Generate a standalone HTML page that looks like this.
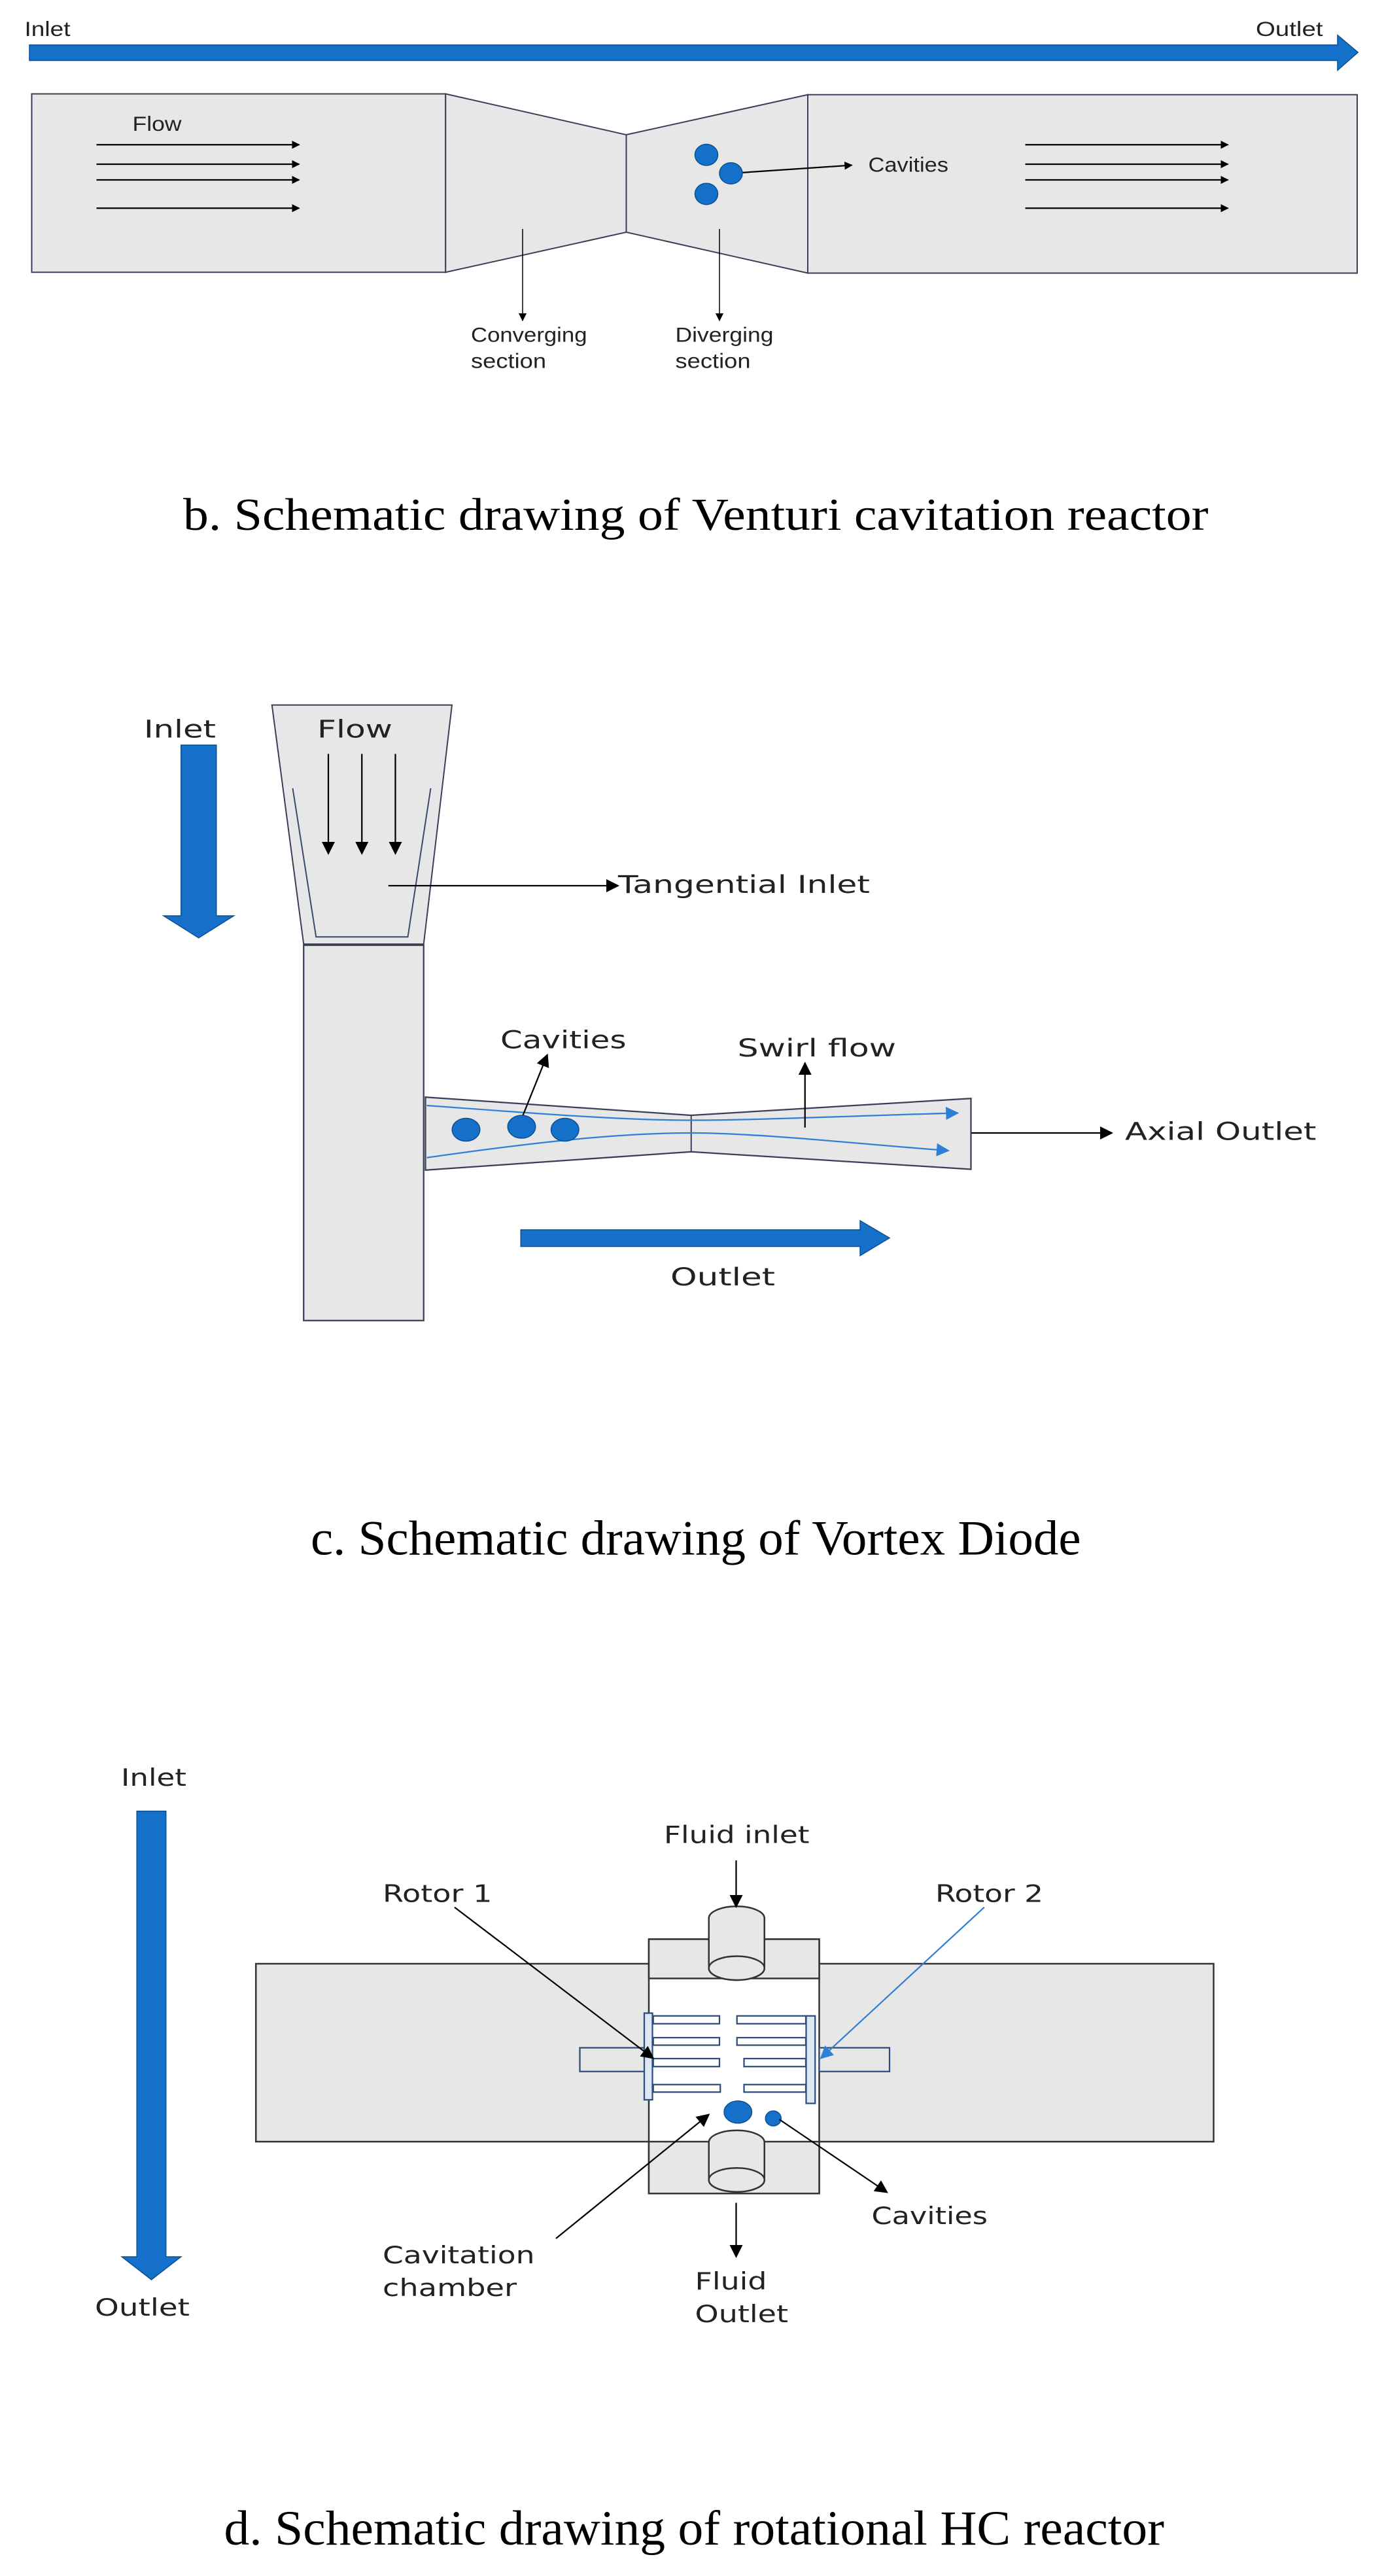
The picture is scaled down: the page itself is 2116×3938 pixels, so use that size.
<!DOCTYPE html>
<html><head><meta charset="utf-8"><style>html,body{margin:0;padding:0;background:#fff}svg{display:block}</style></head>
<body>
<svg xmlns="http://www.w3.org/2000/svg" width="2116" height="3938" viewBox="0 0 846.4 1575.2">
<defs>
<marker id="ah" viewBox="0 0 10 10" refX="9" refY="5" markerWidth="5" markerHeight="5" orient="auto" markerUnits="userSpaceOnUse"><path d="M0,0L10,5L0,10z" fill="#000"/></marker>
<marker id="ah2" viewBox="0 0 10 10" refX="9" refY="5" markerWidth="8" markerHeight="8" orient="auto" markerUnits="userSpaceOnUse"><path d="M0,0L10,5L0,10z" fill="#000"/></marker>
<marker id="ahb" viewBox="0 0 10 10" refX="9" refY="5" markerWidth="8" markerHeight="8" orient="auto" markerUnits="userSpaceOnUse"><path d="M0,0L10,5L0,10z" fill="#2f7fd6"/></marker>
</defs>
<rect width="846.4" height="1575.2" fill="#fff"/>

<!-- ===== Section b ===== -->
<g font-family="Liberation Sans, sans-serif" font-size="12.5" fill="#222" lengthAdjust="spacingAndGlyphs">
<text x="15" y="22" textLength="28" lengthAdjust="spacingAndGlyphs">Inlet</text>
<text x="768" y="22" textLength="41" lengthAdjust="spacingAndGlyphs">Outlet</text>
</g>
<path d="M18,27.5H818V21.5L830.5,32L818,43V37H18Z" fill="#1570c9" stroke="#0d4f91" stroke-width="0.6"/>
<g stroke="#3a3f55" stroke-width="0.8" fill="#e7e7e7">
<rect x="19.4" y="57.4" width="253.1" height="109.1"/>
<path d="M272.5,57.4L383,82.4V142L272.5,166.5Z"/>
<path d="M383,82.4L494,57.9V167L383,142Z"/>
<rect x="494" y="57.9" width="336" height="109.1"/>
</g>
<text x="81" y="80" font-family="Liberation Sans, sans-serif" font-size="12.5" fill="#222" textLength="30" lengthAdjust="spacingAndGlyphs">Flow</text>
<g stroke="#000" stroke-width="0.9" marker-end="url(#ah)">
<line x1="59" y1="88.5" x2="183" y2="88.5"/><line x1="59" y1="100.4" x2="183" y2="100.4"/>
<line x1="59" y1="110" x2="183" y2="110"/><line x1="59" y1="127.3" x2="183" y2="127.3"/>
<line x1="627" y1="88.5" x2="751" y2="88.5"/><line x1="627" y1="100.4" x2="751" y2="100.4"/>
<line x1="627" y1="110" x2="751" y2="110"/><line x1="627" y1="127.3" x2="751" y2="127.3"/>
<line x1="447" y1="106" x2="521" y2="101"/>
</g>
<g fill="#1570c9" stroke="#0d4f91" stroke-width="0.6">
<ellipse cx="432" cy="94.7" rx="7" ry="6.5"/><ellipse cx="447" cy="106" rx="7" ry="6.5"/><ellipse cx="432" cy="118.6" rx="7" ry="6.5"/>
</g>
<text x="531" y="105" font-family="Liberation Sans, sans-serif" font-size="12.5" fill="#222" textLength="49" lengthAdjust="spacingAndGlyphs">Cavities</text>
<g stroke="#000" stroke-width="0.6" marker-end="url(#ah)">
<line x1="319.6" y1="140" x2="319.6" y2="196"/><line x1="440" y1="140" x2="440" y2="196"/>
</g>
<g font-family="Liberation Sans, sans-serif" font-size="12.5" fill="#222">
<text x="288" y="209" textLength="71" lengthAdjust="spacingAndGlyphs">Converging</text><text x="288" y="225" textLength="46" lengthAdjust="spacingAndGlyphs">section</text>
<text x="413" y="209" textLength="60" lengthAdjust="spacingAndGlyphs">Diverging</text><text x="413" y="225" textLength="46" lengthAdjust="spacingAndGlyphs">section</text>
</g>
<text x="112" y="324" font-family="Liberation Serif, serif" font-size="28" textLength="627" lengthAdjust="spacingAndGlyphs" fill="#000">b. Schematic drawing of Venturi cavitation reactor</text>

<!-- ===== Section c ===== -->
<path d="M110.7,455.6H132.3V560H143L121.5,573.5L100,560H110.7Z" fill="#1570c9" stroke="#0d4f91" stroke-width="0.6"/>
<rect x="185.7" y="578" width="73.4" height="229.5" fill="#e7e7e7" stroke="#3a3f55" stroke-width="0.9"/>
<path d="M166.3,431.1H276.4L259.1,577.3H185.7Z" fill="#e7e7e7" stroke="#3a3f55" stroke-width="0.8"/>
<path d="M179,482L193.3,572.9H249.4L263.4,482" fill="none" stroke="#3a4a6a" stroke-width="0.8"/>
<g font-family="DejaVu Sans, sans-serif" font-size="15" fill="#222">
<text x="88" y="451" textLength="44" lengthAdjust="spacingAndGlyphs">Inlet</text>
<text x="194" y="451" textLength="46" lengthAdjust="spacingAndGlyphs">Flow</text>
<text x="378" y="546" textLength="154" lengthAdjust="spacingAndGlyphs">Tangential Inlet</text>
<text x="306" y="641" textLength="77" lengthAdjust="spacingAndGlyphs">Cavities</text>
<text x="451" y="646" textLength="97" lengthAdjust="spacingAndGlyphs">Swirl flow</text>
<text x="688" y="697" textLength="117" lengthAdjust="spacingAndGlyphs">Axial Outlet</text>
<text x="410" y="786" textLength="64" lengthAdjust="spacingAndGlyphs">Outlet</text>
</g>
<g stroke="#000" stroke-width="0.9" marker-end="url(#ah2)">
<line x1="200.8" y1="461" x2="200.8" y2="522"/><line x1="221.3" y1="461" x2="221.3" y2="522"/><line x1="241.8" y1="461" x2="241.8" y2="522"/>
<line x1="237.5" y1="541.6" x2="378" y2="541.6"/>
<line x1="593.8" y1="692.8" x2="680" y2="692.8"/>
</g>
<path d="M260.2,670.9L422.7,682L593.8,671.7V715L422.7,704.3L260.2,715.5Z" fill="#e7e7e7" stroke="#3a3f55" stroke-width="0.9"/>
<line x1="422.7" y1="682" x2="422.7" y2="704.3" stroke="#3a3f55" stroke-width="0.8"/>
<g fill="none" stroke="#2f7fd6" stroke-width="0.9" marker-end="url(#ahb)">
<path d="M261,676C330,681 380,685 422.7,685S530,682 585.7,680.6"/>
<path d="M261,707.9C330,698 380,692.8 422.7,692.8S530,700 580,703.6"/>
</g>
<line x1="319" y1="684" x2="334.7" y2="645" stroke="#000" stroke-width="0.9" marker-end="url(#ah2)"/>
<line x1="492.3" y1="689.5" x2="492.3" y2="650" stroke="#000" stroke-width="0.9" marker-end="url(#ah2)"/>
<g fill="#1570c9" stroke="#0d4f91" stroke-width="0.6">
<ellipse cx="285" cy="690.8" rx="8.5" ry="7"/><ellipse cx="319" cy="689" rx="8.5" ry="7"/><ellipse cx="345.5" cy="690.8" rx="8.5" ry="7"/>
</g>
<path d="M318.5,752H526V746.4L544,757L526,767.8V762.2H318.5Z" fill="#1570c9" stroke="#0d4f91" stroke-width="0.6"/>
<text x="190" y="950.5" font-family="Liberation Serif, serif" font-size="30" textLength="471" lengthAdjust="spacingAndGlyphs" fill="#000">c. Schematic drawing of Vortex Diode</text>

<!-- ===== Section d ===== -->
<g font-family="DejaVu Sans, sans-serif" font-size="14.5" fill="#222">
<text x="74" y="1092" textLength="40" lengthAdjust="spacingAndGlyphs">Inlet</text>
<text x="58" y="1416" textLength="58" lengthAdjust="spacingAndGlyphs">Outlet</text>
<text x="406" y="1127" textLength="89" lengthAdjust="spacingAndGlyphs">Fluid inlet</text>
<text x="234" y="1163" textLength="67" lengthAdjust="spacingAndGlyphs">Rotor 1</text>
<text x="572" y="1163" textLength="66" lengthAdjust="spacingAndGlyphs">Rotor 2</text>
<text x="202" y="1256" textLength="67" lengthAdjust="spacingAndGlyphs">Electric</text><text x="202" y="1277" textLength="73" lengthAdjust="spacingAndGlyphs">motor 1</text>
<text x="598" y="1256" textLength="67" lengthAdjust="spacingAndGlyphs">Electric</text><text x="598" y="1277" textLength="74" lengthAdjust="spacingAndGlyphs">motor 2</text>
<text x="234" y="1384" textLength="93" lengthAdjust="spacingAndGlyphs">Cavitation</text><text x="234" y="1404" textLength="82" lengthAdjust="spacingAndGlyphs">chamber</text>
<text x="533" y="1360" textLength="71" lengthAdjust="spacingAndGlyphs">Cavities</text>
<text x="425" y="1400" textLength="44" lengthAdjust="spacingAndGlyphs">Fluid</text><text x="425" y="1420" textLength="57" lengthAdjust="spacingAndGlyphs">Outlet</text>
</g>
<path d="M83.7,1107.5H101.5V1380H110.7L92.6,1394L74.5,1380H83.7Z" fill="#1570c9" stroke="#0d4f91" stroke-width="0.6"/>
<rect x="156.5" y="1200.8" width="585.7" height="108.8" fill="#e7e7e7" stroke="#333" stroke-width="1"/>
<rect x="396.8" y="1185.8" width="104.2" height="155.5" fill="#fff" stroke="#333" stroke-width="1"/>
<rect x="396.8" y="1185.8" width="104.2" height="24" fill="#e7e7e7" stroke="#333" stroke-width="1"/>
<rect x="396.8" y="1309.6" width="104.2" height="31.7" fill="#e7e7e7" stroke="#333" stroke-width="1"/>
<path d="M433.5,1173V1203.5A17,7.3 0 0 0 467.5,1203.5V1173A17,7.3 0 0 0 433.5,1173Z" fill="#e7e7e7" stroke="#333" stroke-width="1"/>
<ellipse cx="450.5" cy="1203.5" rx="17" ry="7.3" fill="#e7e7e7" stroke="#333" stroke-width="1"/>
<path d="M433.5,1310V1333A17,7.3 0 0 0 467.5,1333V1310A17,7.3 0 0 0 433.5,1310Z" fill="#e7e7e7" stroke="#333" stroke-width="1"/>
<ellipse cx="450.5" cy="1333" rx="17" ry="7.3" fill="#e7e7e7" stroke="#333" stroke-width="1"/>
<g fill="#e7e7e7" stroke="#2d4d7a" stroke-width="0.9">
<rect x="354.6" y="1252.2" width="42.2" height="14.5"/>
<rect x="501" y="1252.2" width="43" height="14.5"/>
<rect x="394" y="1231" width="5" height="53" fill="#dde6f3"/>
<rect x="493" y="1232.7" width="5.5" height="53.5" fill="#dde6f3"/>
<rect x="399.5" y="1232.7" width="40.5" height="4.8" fill="#fff"/>
<rect x="399.5" y="1246" width="40.5" height="4.6" fill="#fff"/>
<rect x="399.5" y="1258.8" width="40.5" height="4.9" fill="#fff"/>
<rect x="399.5" y="1274.7" width="41" height="4.6" fill="#fff"/>
<rect x="450.7" y="1232.7" width="42.1" height="4.8" fill="#fff"/>
<rect x="450.7" y="1246" width="42.1" height="4.6" fill="#fff"/>
<rect x="455" y="1258.8" width="37.8" height="4.9" fill="#fff"/>
<rect x="455" y="1274.7" width="37.8" height="4.6" fill="#fff"/>
</g>
<g fill="#1570c9" stroke="#0d4f91" stroke-width="0.6">
<ellipse cx="451.3" cy="1291.5" rx="8.5" ry="6.8"/><ellipse cx="472.9" cy="1295.4" rx="4.8" ry="4.6"/>
</g>
<g stroke="#000" stroke-width="0.9" marker-end="url(#ah2)">
<line x1="450.2" y1="1137.6" x2="450.2" y2="1166"/>
<line x1="278" y1="1166.3" x2="399.5" y2="1258.6"/>
<line x1="340" y1="1368.8" x2="433.5" y2="1293"/>
<line x1="476.6" y1="1296" x2="542.5" y2="1340.6"/>
<line x1="450.2" y1="1347" x2="450.2" y2="1380"/>
</g>
<line x1="601.9" y1="1166.3" x2="502" y2="1258.6" stroke="#2f7fd6" stroke-width="0.9" marker-end="url(#ahb)"/>
<text x="137" y="1556" font-family="Liberation Serif, serif" font-size="30" textLength="575" lengthAdjust="spacingAndGlyphs" fill="#000">d. Schematic drawing of rotational HC reactor</text>
</svg>
</body></html>
